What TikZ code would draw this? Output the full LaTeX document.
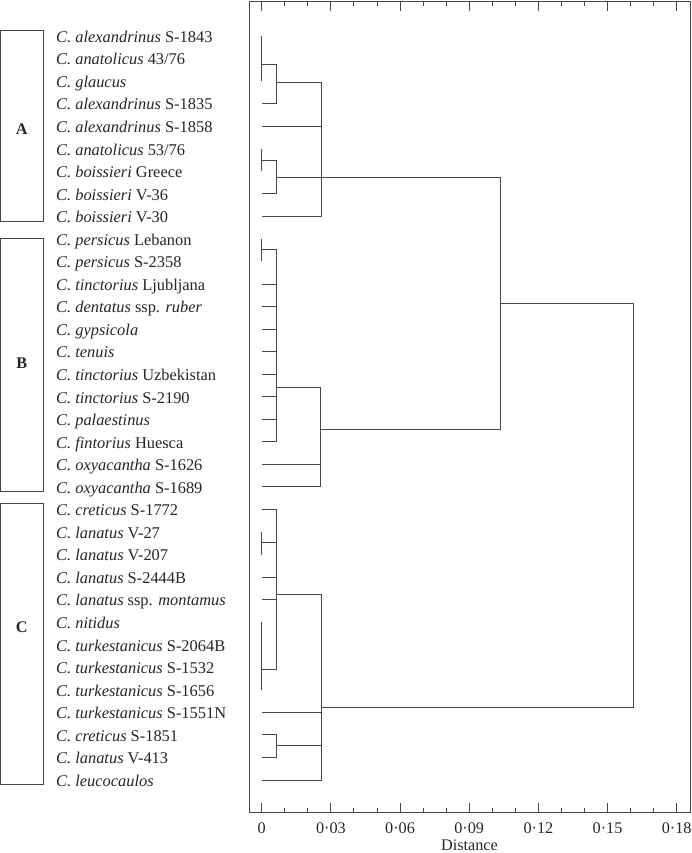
\documentclass[tikz,border=0pt]{standalone}
\usepackage{fontspec}
\setmainfont{Liberation Serif}
\begin{document}
\begin{tikzpicture}[x=1pt,y=-1pt,
  dline/.style={line width=0.9pt,draw=black!72},
  leaflabel/.style={anchor=base west,inner sep=0pt,font=\fontsize{16.4}{18}\selectfont,text=black!85},
  ticklabel/.style={anchor=base,inner sep=0pt,font=\fontsize{16.2}{18}\selectfont,text=black!85},
  grouplabel/.style={anchor=base,inner sep=0pt,font=\fontsize{16.2}{18}\selectfont\bfseries,text=black!85}]
\useasboundingbox (0,0) rectangle (691,853);
% leaf coordinates
\foreach \i in {0,...,33} \coordinate (l\i) at (261.7,{36+22.545*\i});
\coordinate (X1) at (276,0);
\coordinate (X2) at (321.7,0);
\coordinate (X2b) at (320.7,0);
\coordinate (X3) at (500,0);
\coordinate (X4) at (633.3,0);
% frame
\draw[dline] (249,1) rectangle (690,812.7);
\foreach \k in {0,...,18} {
  \draw[dline] ({261.7+23.056*\k},812.7) -- ++(0,-4.5);
  \draw[dline] ({261.7+23.056*\k},1) -- ++(0,5.5);
}
\foreach \k/\t in {0/0,3/0·03,6/0·06,9/0·09,12/0·12,15/0·15,18/0·18} {
  \draw[dline] ({261.7+23.056*\k},812.7) -- ++(0,-10);
  \draw[dline] ({261.7+23.056*\k},1) -- ++(0,10.5);
  \node[ticklabel] (tk\k) at ({261.7+23.056*\k},833.3) {\t};
}
\node[ticklabel] (xlab) at (469.5,850) {Distance};
% group boxes
\draw[dline] (0.7,30.7) rectangle (43.3,221.7);
\draw[dline] (0.7,238.3) rectangle (43.3,491.7);
\draw[dline] (0.7,503.3) rectangle (43.3,784);
\node[grouplabel] (gA) at (21.7,135) {A};
\node[grouplabel] (gB) at (21.7,368.5) {B};
\node[grouplabel] (gC) at (21.7,632.7) {C};
% leaf labels
\node[leaflabel] (t0) at (56,42.3) {\textit{C. alexandrinus} S-1843};
\node[leaflabel] (t1) at (56,64.85) {\textit{C. anatolicus} 43/76};
\node[leaflabel] (t2) at (56,87.4) {\textit{C. glaucus}};
\node[leaflabel] (t3) at (56,109.94) {\textit{C. alexandrinus} S-1835};
\node[leaflabel] (t4) at (56,132.48) {\textit{C. alexandrinus} S-1858};
\node[leaflabel] (t5) at (56,155.03) {\textit{C. anatolicus} 53/76};
\node[leaflabel] (t6) at (56,177.57) {\textit{C. boissieri} Greece};
\node[leaflabel] (t7) at (56,200.12) {\textit{C. boissieri} V-36};
\node[leaflabel] (t8) at (56,222.66) {\textit{C. boissieri} V-30};
\node[leaflabel] (t9) at (56,245.21) {\textit{C. persicus} Lebanon};
\node[leaflabel] (t10) at (56,267.75) {\textit{C. persicus} S-2358};
\node[leaflabel] (t11) at (56,290.3) {\textit{C. tinctorius} Ljubljana};
\node[leaflabel] (t12) at (56,312.84) {\textit{C. dentatus} ssp. \textit{ruber}};
\node[leaflabel] (t13) at (56,335.39) {\textit{C. gypsicola}};
\node[leaflabel] (t14) at (56,357.93) {\textit{C. tenuis}};
\node[leaflabel] (t15) at (56,380.48) {\textit{C. tinctorius} Uzbekistan};
\node[leaflabel] (t16) at (56,403.02) {\textit{C. tinctorius} S-2190};
\node[leaflabel] (t17) at (56,425.57) {\textit{C. palaestinus}};
\node[leaflabel] (t18) at (56,448.11) {\textit{C. fintorius} Huesca};
\node[leaflabel] (t19) at (56,470.66) {\textit{C. oxyacantha} S-1626};
\node[leaflabel] (t20) at (56,493.2) {\textit{C. oxyacantha} S-1689};
\node[leaflabel] (t21) at (56,515.75) {\textit{C. creticus} S-1772};
\node[leaflabel] (t22) at (56,538.29) {\textit{C. lanatus} V-27};
\node[leaflabel] (t23) at (56,560.84) {\textit{C. lanatus} V-207};
\node[leaflabel] (t24) at (56,583.38) {\textit{C. lanatus} S-2444B};
\node[leaflabel] (t25) at (56,605.93) {\textit{C. lanatus} ssp. \textit{montamus}};
\node[leaflabel] (t26) at (56,628.47) {\textit{C. nitidus}};
\node[leaflabel] (t27) at (56,651.02) {\textit{C. turkestanicus} S-2064B};
\node[leaflabel] (t28) at (56,673.56) {\textit{C. turkestanicus} S-1532};
\node[leaflabel] (t29) at (56,696.11) {\textit{C. turkestanicus} S-1656};
\node[leaflabel] (t30) at (56,718.65) {\textit{C. turkestanicus} S-1551N};
\node[leaflabel] (t31) at (56,741.2) {\textit{C. creticus} S-1851};
\node[leaflabel] (t32) at (56,763.74) {\textit{C. lanatus} V-413};
\node[leaflabel] (t33) at (56,786.29) {\textit{C. leucocaulos}};
% cluster A
\coordinate (a1) at (276,64.3);
\coordinate (a2) at (321.7,82.7);
\coordinate (a3) at (276,160);
\coordinate (nA) at (276,177.3);
\draw[dline] (l0) -- (l2);
\draw[dline] (a1 -| l0) -- (a1) -- (l3 -| X1) -- (l3);
\draw[dline] (a2 -| X1) -- (a2) -- (l8 -| X2) -- (l8);
\draw[dline] (l4) -- (l4 -| X2);
\draw[dline] (l5) -- (l6);
\draw[dline] (a3 -| l0) -- (a3) -- (l7 -| X1) -- (l7);
% cluster B
\coordinate (b1) at (276,249.3);
\coordinate (b2) at (320.7,387.3);
\coordinate (nB) at (320.7,429.3);
\draw[dline] (l9) -- (l10);
\draw[dline] (b1 -| l0) -- (b1) -- (l18 -| X1) -- (l18);
\foreach \i in {11,...,17} \draw[dline] (l\i) -- (l\i -| X1);
\draw[dline] (b2 -| X1) -- (b2) -- (l20 -| X2b) -- (l20);
\draw[dline] (l19) -- (l19 -| X2b);
% cluster C
\coordinate (c2) at (276,669.3);
\coordinate (c3) at (276,542.7);
\coordinate (c4) at (321.7,594);
\coordinate (c5) at (321.7,745);
\coordinate (nC) at (321.7,707.7);
\draw[dline] (l21) -- (l21 -| X1) -- (c2) -- (c2 -| l0);
\draw[dline] (l22) -- (l23);
\draw[dline] (c3 -| l0) -- (c3);
\draw[dline] (l24) -- (l24 -| X1);
\draw[dline] (l25) -- (l25 -| X1);
\draw[dline] (l26) -- (l29);
\draw[dline] (c4 -| X1) -- (c4) -- (l33 -| X2) -- (l33);
\draw[dline] (l30) -- (l30 -| X2);
\draw[dline] (l31) -- (l31 -| X1) -- (l32 -| X1) -- (l32);
\draw[dline] (c5 -| X1) -- (c5);
% upper links
\coordinate (r1) at (500,303.3);
\coordinate (r2) at (633.3,303.3);
\draw[dline] (nA) -- (nA -| X3) -- (nB -| X3) -- (nB);
\draw[dline] (r1) -- (r2) -- (nC -| X4) -- (nC);
\end{tikzpicture}
\end{document}
